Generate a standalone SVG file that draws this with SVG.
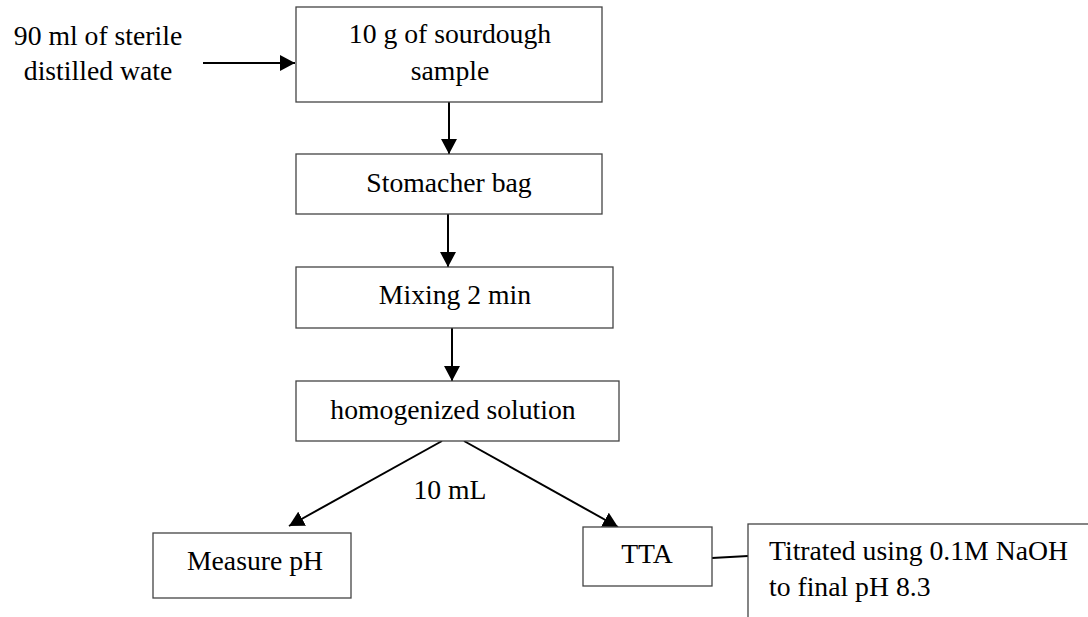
<svg xmlns="http://www.w3.org/2000/svg" width="1088" height="617" viewBox="0 0 1088 617">
<defs>
<style>
.box{fill:#fff;stroke:#444;stroke-width:1.3}
.t{font-family:"Liberation Serif","Times New Roman",serif;font-size:27.7px;fill:#000}
.c{text-anchor:middle}
.ln{stroke:#000;stroke-width:2;fill:none}
.ar{marker-end:url(#ah)}
</style>
<marker id="ah" markerUnits="userSpaceOnUse" markerWidth="15" markerHeight="16" viewBox="0 0 15 16" refX="15" refY="8" orient="auto">
<path d="M0,0 L15,8 L0,16 z" fill="#000"/>
</marker>
</defs>
<rect width="1088" height="617" fill="#fff"/>
<g id="connectors">
<line class="ln ar" x1="203" y1="63" x2="295" y2="63"/>
<line class="ln ar" x1="449" y1="102" x2="449" y2="154"/>
<line class="ln ar" x1="448" y1="214" x2="448" y2="267"/>
<line class="ln ar" x1="452" y1="328" x2="452" y2="381"/>
<line class="ln ar" x1="442" y1="441" x2="289" y2="526"/>
<line class="ln ar" x1="464" y1="441" x2="618" y2="527"/>
<line class="ln" x1="712" y1="558" x2="748" y2="556" stroke-width="1.6"/>
</g>
<g id="water">
<text class="t c" x="98" y="45">90 ml of sterile</text>
<text class="t c" x="98" y="80">distilled wate</text>
</g>
<g id="sample">
<rect class="box" x="296" y="7" width="306" height="95"/>
<text class="t c" x="450" y="43">10 g of sourdough</text>
<text class="t c" x="450" y="80">sample</text>
</g>
<g id="stomacher">
<rect class="box" x="296" y="154" width="306" height="60"/>
<text class="t c" x="449" y="192">Stomacher bag</text>
</g>
<g id="mixing">
<rect class="box" x="296" y="267" width="317" height="61"/>
<text class="t c" x="455" y="304">Mixing 2 min</text>
</g>
<g id="homogenized">
<rect class="box" x="296" y="381" width="323" height="60"/>
<text class="t c" x="453" y="419">homogenized solution</text>
</g>
<g id="label10ml">
<text class="t c" x="450" y="499">10 mL</text>
</g>
<g id="measure">
<rect class="box" x="153" y="533" width="198" height="65"/>
<text class="t c" x="255" y="570">Measure pH</text>
</g>
<g id="tta">
<rect class="box" x="583" y="527" width="129" height="59"/>
<text class="t c" x="647" y="563">TTA</text>
</g>
<g id="titrated">
<rect class="box" x="748" y="524" width="400" height="200"/>
<text class="t" x="769" y="560">Titrated using 0.1M NaOH</text>
<text class="t" x="769" y="596">to final pH 8.3</text>
</g>
</svg>
